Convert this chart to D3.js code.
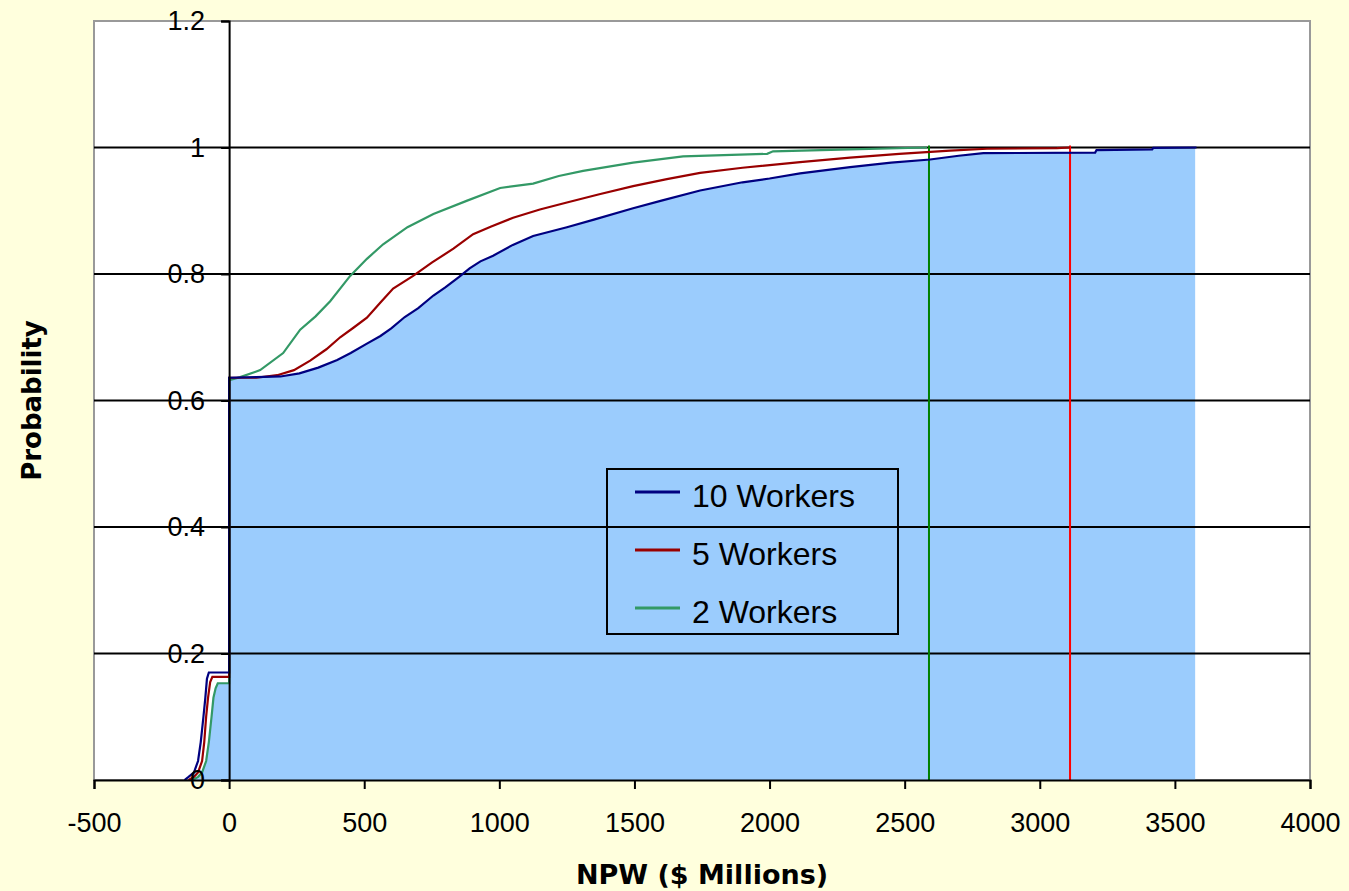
<!DOCTYPE html>
<html>
<head>
<meta charset="utf-8">
<script src="https://cdn.jsdelivr.net/npm/d3@7"></script>
<style>
  html, body { margin: 0; padding: 0; background: #FFFFDD; }
  svg { display: block; }
</style>
</head>
<body>
<svg id="chart" width="1349" height="891"></svg>
<script>
// Cumulative probability of NPW ($ millions) for each crew size: [npw, probability]
const workers10 = [
  [-165, 0], [-150, 0.005], [-130, 0.012], [-115, 0.03], [-105, 0.06], [-95, 0.1],
  [-88, 0.13], [-82, 0.16], [-75, 0.17], [0, 0.17], [0, 0.636],
  [100, 0.637], [190, 0.638], [260, 0.643], [330, 0.652], [400, 0.664], [450, 0.675],
  [510, 0.69], [560, 0.702], [600, 0.714], [650, 0.732], [700, 0.746], [756, 0.766],
  [800, 0.779], [850, 0.795], [890, 0.809], [930, 0.82], [977, 0.829], [1050, 0.846],
  [1125, 0.86], [1250, 0.874], [1350, 0.886], [1495, 0.904], [1600, 0.916],
  [1743, 0.932], [1900, 0.945], [2000, 0.951], [2113, 0.959], [2298, 0.969],
  [2450, 0.976], [2594, 0.981], [2700, 0.987], [2791, 0.991], [3205, 0.992],
  [3210, 0.996], [3416, 0.997], [3420, 0.9995], [3580, 1.0]
];
const workers5 = [
  [-150, 0], [-130, 0.005], [-115, 0.012], [-100, 0.03], [-92, 0.06], [-85, 0.1],
  [-78, 0.13], [-70, 0.155], [-62, 0.163], [0, 0.163], [0, 0.636],
  [100, 0.636], [178, 0.64], [240, 0.648], [300, 0.663], [360, 0.681], [411, 0.7],
  [460, 0.715], [510, 0.731], [560, 0.755], [607, 0.777], [681, 0.797], [750, 0.818],
  [830, 0.84], [903, 0.863], [970, 0.875], [1051, 0.889], [1150, 0.902],
  [1250, 0.913], [1370, 0.926], [1495, 0.939], [1620, 0.95], [1743, 0.96],
  [1900, 0.968], [2113, 0.977], [2298, 0.984], [2480, 0.99], [2668, 0.995],
  [2805, 0.998], [3064, 0.999], [3112, 1.0]
];
const workers2 = [
  [-135, 0], [-115, 0.005], [-100, 0.012], [-85, 0.03], [-75, 0.06], [-65, 0.1],
  [-58, 0.13], [-50, 0.145], [-42, 0.153], [0, 0.153], [0, 0.632],
  [41, 0.637], [115, 0.648], [200, 0.675], [263, 0.712], [320, 0.733], [374, 0.757],
  [448, 0.797], [510, 0.824], [570, 0.847], [660, 0.874], [756, 0.895], [881, 0.916],
  [1003, 0.936], [1125, 0.943], [1220, 0.955], [1310, 0.963], [1495, 0.976],
  [1680, 0.986], [1991, 0.99], [2013, 0.994], [2298, 0.997], [2583, 1.0]
];

// Maximum simulated NPW for the 2- and 5-worker cases
const maxNpw = [2590, 3112];
// Right end of the shaded region
const shadeEnd = 3575;

const seriesNames = ["10 Workers", "5 Workers", "2 Workers"];
const xTicks = [-500, 0, 500, 1000, 1500, 2000, 2500, 3000, 3500, 4000];
const yTicks = [0, 0.2, 0.4, 0.6, 0.8, 1, 1.2];

// Styles
const lineColors = ["#000080", "#990000", "#339966"];
const markerColors = ["#008000", "#FF0000"];
const shadeColor = "#9BCCFD";

const svg = d3.select("#chart");
const plotL = 94, plotR = 1310, plotT = 21, plotB = 780;

const x = d3.scaleLinear().domain([-500, 4000]).range([plotL, plotR]);
const y = d3.scaleLinear().domain([0, 1.2]).range([plotB, plotT]);

// Plot area
svg.append("rect")
  .attr("x", plotL).attr("y", plotT)
  .attr("width", plotR - plotL).attr("height", plotB - plotT)
  .attr("fill", "#FFFFFF")
  .attr("stroke", "#999999").attr("stroke-width", 2);

// Shaded region: lowest curve left of zero, 10-worker curve to the right
const shadePts = workers2.filter(d => d[0] < 0)
  .concat([[0, workers2.find(d => d[0] === 0)[1]]])
  .concat(workers10.filter(d => d[0] >= 0 && d[0] <= shadeEnd))
  .concat([[shadeEnd, 1]]);
svg.append("path")
  .datum(shadePts)
  .attr("fill", shadeColor)
  .attr("d", d3.area().x(d => x(d[0])).y0(y(0)).y1(d => y(d[1])));

// Horizontal gridlines
svg.append("g")
  .selectAll("line")
  .data(yTicks.filter(v => v > 0 && v < 1.2))
  .join("line")
  .attr("x1", plotL).attr("x2", plotR)
  .attr("y1", d => y(d)).attr("y2", d => y(d))
  .attr("stroke", "#000").attr("stroke-width", 2);

// Vertical markers at the maximum NPW values
svg.append("g")
  .selectAll("line")
  .data(maxNpw)
  .join("line")
  .attr("x1", d => x(d)).attr("x2", d => x(d))
  .attr("y1", y(0)).attr("y2", y(1) - 2)
  .attr("stroke", (d, i) => markerColors[i]).attr("stroke-width", 2);

// CDF curves, drawn 2 → 5 → 10 workers so the 10-worker curve is on top
const line = d3.line().x(d => x(d[0])).y(d => y(d[1]));
const series = [workers10, workers5, workers2];
[2, 1, 0].forEach(i => {
  svg.append("path")
    .datum(series[i])
    .attr("fill", "none")
    .attr("stroke", lineColors[i])
    .attr("stroke-width", 2.2)
    .attr("d", line);
});

// X axis (plain hyphen for negative values)
const xAxis = svg.append("g")
  .attr("transform", `translate(0,${plotB})`)
  .call(d3.axisBottom(x).tickValues(xTicks).tickSize(9).tickPadding(24).tickFormat(d => String(d)));
xAxis.select(".domain").attr("stroke", "#000").attr("stroke-width", 2);
xAxis.selectAll(".tick line").attr("stroke", "#000").attr("stroke-width", 2);
xAxis.selectAll("text")
  .attr("font-family", "'Liberation Sans', Arial, sans-serif")
  .attr("font-size", 27).attr("fill", "#000").attr("dy", "0.71em");

// Y axis crossing at NPW = 0
const yAxis = svg.append("g")
  .attr("transform", `translate(${x(0)},0)`)
  .call(d3.axisLeft(y).tickValues(yTicks).tickSize(8).tickPadding(16).tickFormat(d3.format("~g")));
yAxis.select(".domain").attr("stroke", "#000").attr("stroke-width", 2);
yAxis.selectAll(".tick line").attr("stroke", "#000").attr("stroke-width", 2);
yAxis.selectAll("text")
  .attr("font-family", "'Liberation Sans', Arial, sans-serif")
  .attr("font-size", 27).attr("fill", "#000");

// Axis titles
svg.append("text")
  .attr("x", (plotL + plotR) / 2).attr("y", 884)
  .attr("text-anchor", "middle")
  .attr("font-family", "'DejaVu Sans', sans-serif")
  .attr("font-weight", "bold").attr("font-size", 27)
  .text("NPW ($ Millions)");

svg.append("text")
  .attr("transform", `translate(41,${(plotT + plotB) / 2}) rotate(-90)`)
  .attr("text-anchor", "middle")
  .attr("font-family", "'DejaVu Sans', sans-serif")
  .attr("font-weight", "bold").attr("font-size", 26)
  .text("Probability");

// Legend
const lg = svg.append("g").attr("transform", "translate(607,469)");
lg.append("rect")
  .attr("width", 291).attr("height", 165)
  .attr("fill", "none").attr("stroke", "#000").attr("stroke-width", 2);
const items = lg.selectAll("g.item")
  .data(seriesNames)
  .join("g")
  .attr("class", "item")
  .attr("transform", (d, i) => `translate(0,${23 + i * 58})`);
items.append("line")
  .attr("x1", 28).attr("x2", 73)
  .attr("stroke", (d, i) => lineColors[i]).attr("stroke-width", 3);
items.append("text")
  .attr("x", 85).attr("y", 15)
  .attr("font-family", "'Liberation Sans', Arial, sans-serif")
  .attr("font-size", 32)
  .text(d => d);
</script>
</body>
</html>
